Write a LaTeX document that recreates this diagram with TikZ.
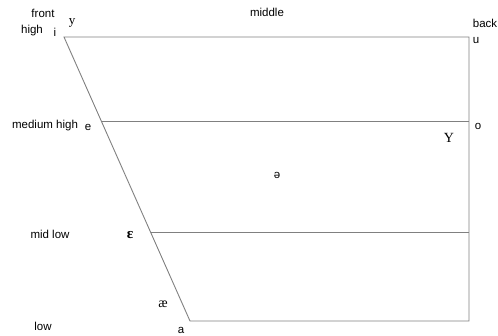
\documentclass[tikz,border=0pt]{standalone}
\usepackage{fontspec}
\setmainfont{Liberation Sans}
\newfontfamily\ipaserif{Liberation Serif}
\usetikzlibrary{calc}
\begin{document}
\begin{tikzpicture}[
    x=1pt, y=-1pt,
    chartline/.style={draw, black!50, line width=0.9pt},
    label/.style={font=\fontsize{11.5}{13}\selectfont, inner sep=0pt},
    vowel/.style={font=\fontsize{11.5}{13}\selectfont, inner sep=0pt},
    serifvowel/.style={font=\ipaserif\fontsize{13}{15}\selectfont, inner sep=0pt}
]
    \useasboundingbox (0,0) rectangle (498,335);

    % Define coordinates
    \def\highY{37}
    \def\lowY{321}

    % Corners of the chart
    \coordinate (tl) at (64, \highY);
    \coordinate (tr) at (469, \highY);
    \coordinate (bl) at (190, \lowY);
    \coordinate (br) at (469, \lowY);
    \coordinate (mhl) at ($(tl)!0.296!(bl)$);
    \coordinate (mhr) at (469, 121);
    \coordinate (mll) at ($(tl)!0.69!(bl)$);
    \coordinate (mlr) at (469, 232);

    % Outline and height lines
    \draw[chartline] (tl) -- (tr) -- (br) -- (bl) -- cycle;
    \draw[chartline] (mhl |- mhr) -- (mhr);
    \draw[chartline] (mll |- mlr) -- (mlr);

    % Labels
    \node[label] (front) at (43, 13) {front};
    \node[label] (middle) at (267, 12) {middle};
    \node[label] (back) at (485, 23) {back};
    \node[label] (high) at (32, 31) {high};
    \node[label] (medhigh) at (45, 126) {medium high};
    \node[label] (midlow) at (50, 234) {mid low};
    \node[label] (low) at (43, 326) {low};

    % Vowels
    \node[vowel] (vi) at (55, 32) {i};
    \node[serifvowel] (vy) at (72, 23) {y};
    \node[vowel] (vu) at (476, 41) {u};
    \node[vowel] (ve) at (88, 127) {e};
    \node[vowel] (vo) at (478, 126) {o};
    \node[serifvowel, font=\ipaserif\fontsize{14}{16}\selectfont] (vY) at (449, 138) {Y};
    \node[vowel] (vschwa) at (277, 175) {ə};
    \node[serifvowel, font=\ipaserif\bfseries\fontsize{15}{17}\selectfont] (veps) at (130, 235) {ɛ};
    \node[serifvowel, font=\ipaserif\fontsize{14}{16}\selectfont] (vae) at (163, 304) {æ};
    \node[vowel] (va) at (181, 330) {a};

\end{tikzpicture}
\end{document}
